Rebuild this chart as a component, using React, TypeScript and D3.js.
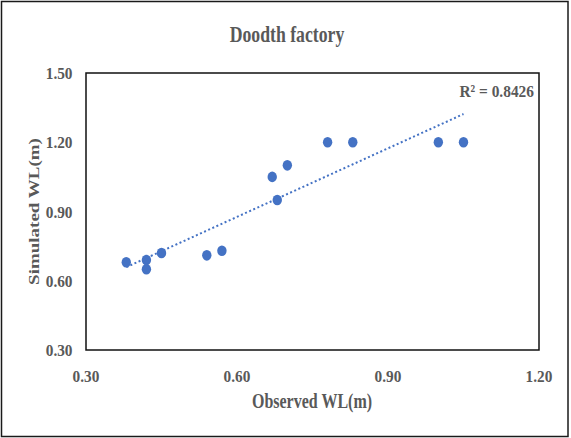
import React from "react";
import * as d3 from "d3";

const observed = [0.38, 0.42, 0.42, 0.45, 0.54, 0.57, 0.67, 0.70, 0.68, 0.78, 0.83, 1.0, 1.05];
const simulated = [0.68, 0.69, 0.65, 0.72, 0.71, 0.73, 1.05, 1.10, 0.95, 1.2, 1.2, 1.2, 1.2];
const xTicks = [0.3, 0.6, 0.9, 1.2];
const yTicks = [0.3, 0.6, 0.9, 1.2, 1.5];
const titleText = "Doodth factory";
const xTitle = "Observed WL(m)";
const yTitle = "Simulated WL(m)";
const r2Text = "R² = 0.8426";

const W = 571;
const H = 438;
const plot = { left: 86, right: 539, top: 73, bottom: 350 };
const FONT = "'Times New Roman', 'Liberation Serif', serif";
const GREY = "#595959";
const BLUE = "#4472C4";

export default function App() {
  const x = d3.scaleLinear().domain([0.3, 1.2]).range([plot.left, plot.right]);
  const y = d3.scaleLinear().domain([0.3, 1.5]).range([plot.bottom, plot.top]);

  const n = observed.length;
  const mx = d3.mean(observed) as number;
  const my = d3.mean(simulated) as number;
  let sxy = 0;
  let sxx = 0;
  for (let i = 0; i < n; i++) {
    sxy += (observed[i] - mx) * (simulated[i] - my);
    sxx += (observed[i] - mx) ** 2;
  }
  const slope = sxy / sxx;
  const intercept = my - slope * mx;
  const [x0, x1] = d3.extent(observed) as [number, number];
  const trend = d3
    .line<number>()
    .x((d) => x(d))
    .y((d) => y(intercept + slope * d))([x0, x1]);

  return (
    <svg
      width={W}
      height={H}
      style={{ position: "absolute", left: 0, top: 0, background: "#fff" }}
    >
      <rect x={1.5} y={1.5} width={566.5} height={435} fill="#fff" stroke="#1a1a1a" strokeWidth={1.5} />
      <text
        transform={`translate(287,42) scale(0.77,1)`}
        textAnchor="middle"
        fontFamily={FONT}
        fontWeight="bold"
        fontSize={23}
        fill={GREY}
      >
        {titleText}
      </text>

      <rect
        x={plot.left}
        y={plot.top}
        width={plot.right - plot.left}
        height={plot.bottom - plot.top}
        fill="none"
        stroke="#111"
        strokeWidth={1.5}
      />

      {yTicks.map((t) => (
        <text
          key={"y" + t}
          transform={`translate(72.5,${y(t) + 6}) scale(0.9,1)`}
          textAnchor="end"
          fontFamily={FONT}
          fontWeight="bold"
          fontSize={17}
          fill={GREY}
        >
          {t.toFixed(2)}
        </text>
      ))}
      {xTicks.map((t) => (
        <text
          key={"x" + t}
          transform={`translate(${x(t)},381.5) scale(0.9,1)`}
          textAnchor="middle"
          fontFamily={FONT}
          fontWeight="bold"
          fontSize={17}
          fill={GREY}
        >
          {t.toFixed(2)}
        </text>
      ))}

      <text
        transform={`translate(312,408) scale(0.8,1)`}
        textAnchor="middle"
        fontFamily={FONT}
        fontWeight="bold"
        fontSize={20}
        fill={GREY}
      >
        {xTitle}
      </text>
      <text
        transform={`translate(39,211.5) scale(0.8,1) rotate(-90)`}
        textAnchor="middle"
        fontFamily={FONT}
        fontWeight="bold"
        fontSize={19}
        fill={GREY}
      >
        {yTitle}
      </text>

      <path d={trend ?? ""} fill="none" stroke={BLUE} strokeWidth={2} strokeDasharray="2 2.5" />

      {observed.map((o, i) => (
        <ellipse key={i} cx={x(o)} cy={y(simulated[i])} rx={4.7} ry={5.3} fill={BLUE} />
      ))}

      <text
        transform={`translate(534,97) scale(0.88,1)`}
        textAnchor="end"
        fontFamily={FONT}
        fontWeight="bold"
        fontSize={17.5}
        fill={GREY}
      >
        {r2Text}
      </text>
    </svg>
  );
}
